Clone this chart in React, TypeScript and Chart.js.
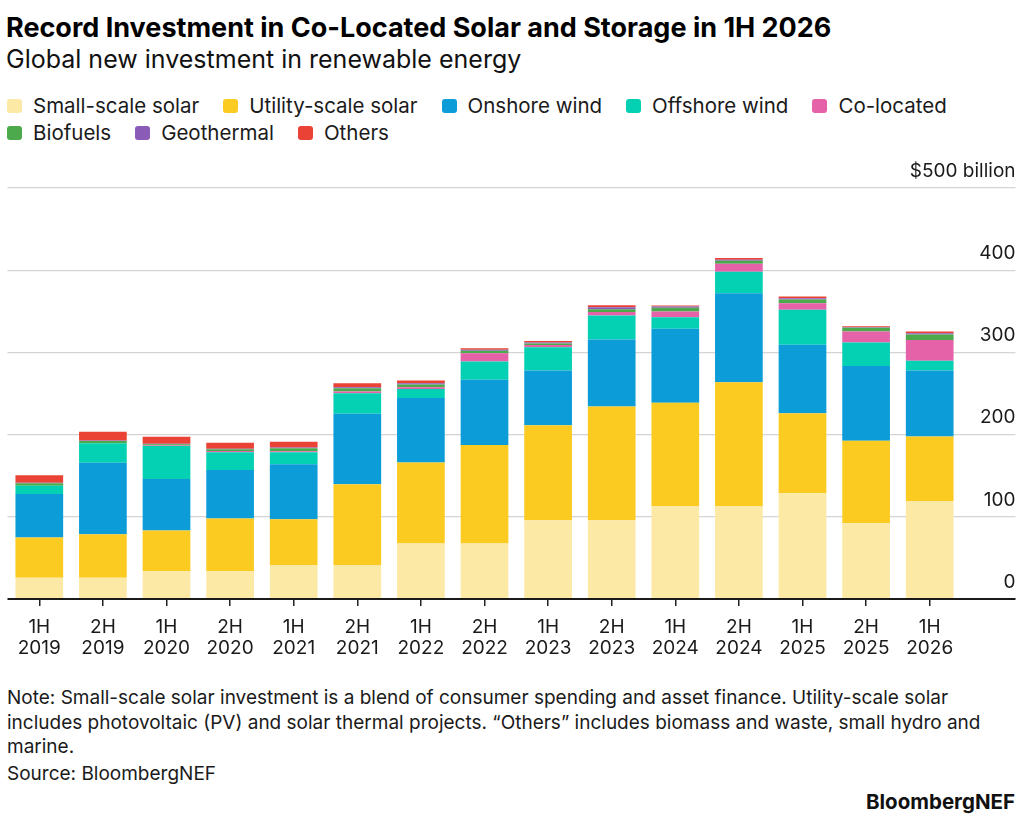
import React, { useEffect, useRef } from 'react';
import { Chart, registerables } from 'chart.js';

Chart.register(...registerables);

const FONT = 'Inter, "Liberation Sans", Arial, sans-serif';

// half-year periods, drawn as two-line tick labels
const periods = [
  ['1H', '2019'], ['2H', '2019'], ['1H', '2020'], ['2H', '2020'], ['1H', '2021'],
  ['2H', '2021'], ['1H', '2022'], ['2H', '2022'], ['1H', '2023'], ['2H', '2023'],
  ['1H', '2024'], ['2H', '2024'], ['1H', '2025'], ['2H', '2025'], ['1H', '2026'],
];

// $ billion
const smallScaleSolar = [26, 26, 33.7, 33.7, 41.4, 41.4, 67.4, 67.4, 95.8, 95.8, 113.2, 113.2, 128.7, 92.1, 119.3];
const utilityScaleSolar = [48.7, 52.7, 49.5, 64.1, 55.6, 98.2, 98.6, 120.1, 115.6, 138.4, 125.4, 150.6, 97.3, 100.3, 78.3];
const onshoreWind = [53, 87.2, 62.8, 59.2, 67, 85.9, 78.6, 79.1, 66.5, 81.5, 90.1, 108.3, 83.2, 91.2, 80.3];
const offshoreWind = [10.1, 23.6, 40.2, 21.6, 14.6, 24.9, 11, 22.2, 28.5, 29.3, 14.2, 25.9, 42.6, 28.4, 11.8];
const coLocated = [0, 0, 0.5, 1.5, 1, 2, 2, 10.2, 2.5, 4, 6.8, 9.7, 8.1, 13.3, 25.5];
const biofuels = [3, 2.8, 1.6, 2, 3.8, 4, 3.5, 3, 2, 3.5, 4.5, 3.8, 4.5, 4.6, 6.5];
const geothermal = [0.5, 0.5, 0.5, 0.8, 1, 1.3, 1.4, 1.1, 1.1, 2.5, 1.6, 1.1, 1.6, 0.8, 1.7];
const others = [9.2, 10.6, 8.5, 7.3, 6.8, 4.8, 3.2, 2, 2, 2.3, 1.3, 2.1, 2, 1, 2];

const seriesNames = ['Small-scale solar', 'Utility-scale solar', 'Onshore wind', 'Offshore wind', 'Co-located', 'Biofuels', 'Geothermal', 'Others'];
const seriesColors = ['#fce9a6', '#fccb22', '#0c9dd8', '#04d0b4', '#e662a8', '#4caa4c', '#8a5cb8', '#ea4335'];
const seriesValues = [smallScaleSolar, utilityScaleSolar, onshoreWind, offshoreWind, coLocated, biofuels, geothermal, others];

const yTicks = [0, 100, 200, 300, 400, 500];
const yTickLabels = ['0', '100', '200', '300', '400', '$500 billion'];

const noteLines = [
  'Note: Small-scale solar investment is a blend of consumer spending and asset finance. Utility-scale solar',
  'includes photovoltaic (PV) and solar thermal projects. \u201cOthers\u201d includes biomass and waste, small hydro and',
  'marine.',
];

// y labels sit above their gridline, right-aligned at the end of it
const yLabelPlugin = {
  id: 'yLabelsAbove',
  afterDraw(chart: any) {
    const y = chart.scales.y;
    const ctx = chart.ctx;
    ctx.save();
    ctx.font = `19px ${FONT}`;
    ctx.fillStyle = '#1a1a1a';
    ctx.textAlign = 'right';
    ctx.textBaseline = 'middle';
    yTicks.forEach((v, i) => {
      ctx.fillText(yTickLabels[i], y.right, y.getPixelForValue(v) - 17);
    });
    ctx.restore();
  },
};

const Legend = () => (
  <div style={{ position: 'absolute', left: 7, top: 92, width: 980, display: 'flex', flexWrap: 'wrap', columnGap: 24, rowGap: 0 }}>
    {seriesNames.map((name, i) => (
      <div key={name} style={{ display: 'flex', alignItems: 'center', height: 27, fontSize: 20.5, color: '#1a1a1a' }}>
        <span style={{ width: 15, height: 14, borderRadius: 3, background: seriesColors[i], marginRight: 11, display: 'inline-block' }}></span>
        <span>{name}</span>
      </div>
    ))}
  </div>
);

const App = () => {
  const canvasRef = useRef<HTMLCanvasElement>(null);

  useEffect(() => {
    const ctx = canvasRef.current?.getContext('2d');
    if (!ctx) return;
    const gridColor = (c: any) => (c.tick && c.tick.value === 0 ? '#1a1a1a' : '#d4d4d4');
    const gridWidth = (c: any) => (c.tick && c.tick.value === 0 ? 2 : 1.3);
    const chart = new Chart(ctx, {
      type: 'bar',
      data: {
        labels: periods,
        datasets: seriesNames.map((name, i) => ({
          label: name,
          data: seriesValues[i],
          backgroundColor: seriesColors[i],
          borderWidth: 0,
          barPercentage: 0.75,
          categoryPercentage: 1,
        })),
      },
      options: {
        animation: false,
        responsive: true,
        maintainAspectRatio: false,
        layout: { padding: { top: 28, left: 7.5, right: 8.5, bottom: 0 } },
        plugins: { legend: { display: false }, tooltip: { enabled: false } },
        scales: {
          x: {
            stacked: true,
            border: { display: false },
            grid: { drawOnChartArea: false, drawTicks: true, tickLength: 7, offset: false, color: '#222', lineWidth: 1.5 },
            ticks: { color: '#1a1a1a', padding: 11, font: { family: FONT, size: 19, lineHeight: 1.1 }, maxRotation: 0, autoSkip: false },
            afterFit: (scale: any) => { scale.height = 81; },
          },
          y: {
            stacked: true,
            position: 'right',
            min: 0,
            max: 500,
            border: { display: false },
            grid: { color: gridColor, tickColor: gridColor, lineWidth: gridWidth, drawTicks: true, tickLength: 54 },
            ticks: { stepSize: 100, display: false },
            afterFit: (scale: any) => { scale.width = 54; },
          },
        },
      },
      plugins: [yLabelPlugin],
    });
    return () => chart.destroy();
  }, []);

  return (
    <div style={{ position: 'absolute', left: 0, top: 0, width: 1024, height: 819, background: '#fff', fontFamily: FONT, color: '#1a1a1a' }}>
      <div style={{ position: 'absolute', left: 6, top: 14, fontSize: 27, lineHeight: '27px', fontWeight: 'bold', color: '#000', whiteSpace: 'nowrap' }}>
        Record Investment in Co-Located Solar and Storage in 1H 2026
      </div>
      <div style={{ position: 'absolute', left: 6, top: 47, fontSize: 25, lineHeight: '25px', color: '#111', whiteSpace: 'nowrap' }}>
        Global new investment in renewable energy
      </div>
      <Legend />
      <div style={{ position: 'absolute', left: 0, top: 160, width: 1024, height: 520 }}>
        <canvas ref={canvasRef}></canvas>
      </div>
      <div style={{ position: 'absolute', left: 7, top: 686, fontSize: 19, lineHeight: '24.5px', color: '#1a1a1a', whiteSpace: 'nowrap' }}>
        {noteLines.map((l) => <div key={l}>{l}</div>)}
        <div style={{ marginTop: 2 }}>Source: BloombergNEF</div>
      </div>
      <div style={{ position: 'absolute', right: 9, top: 792, fontSize: 20.5, lineHeight: '20.5px', fontWeight: 'bold', color: '#111' }}>
        BloombergNEF
      </div>
    </div>
  );
};

export default App;
